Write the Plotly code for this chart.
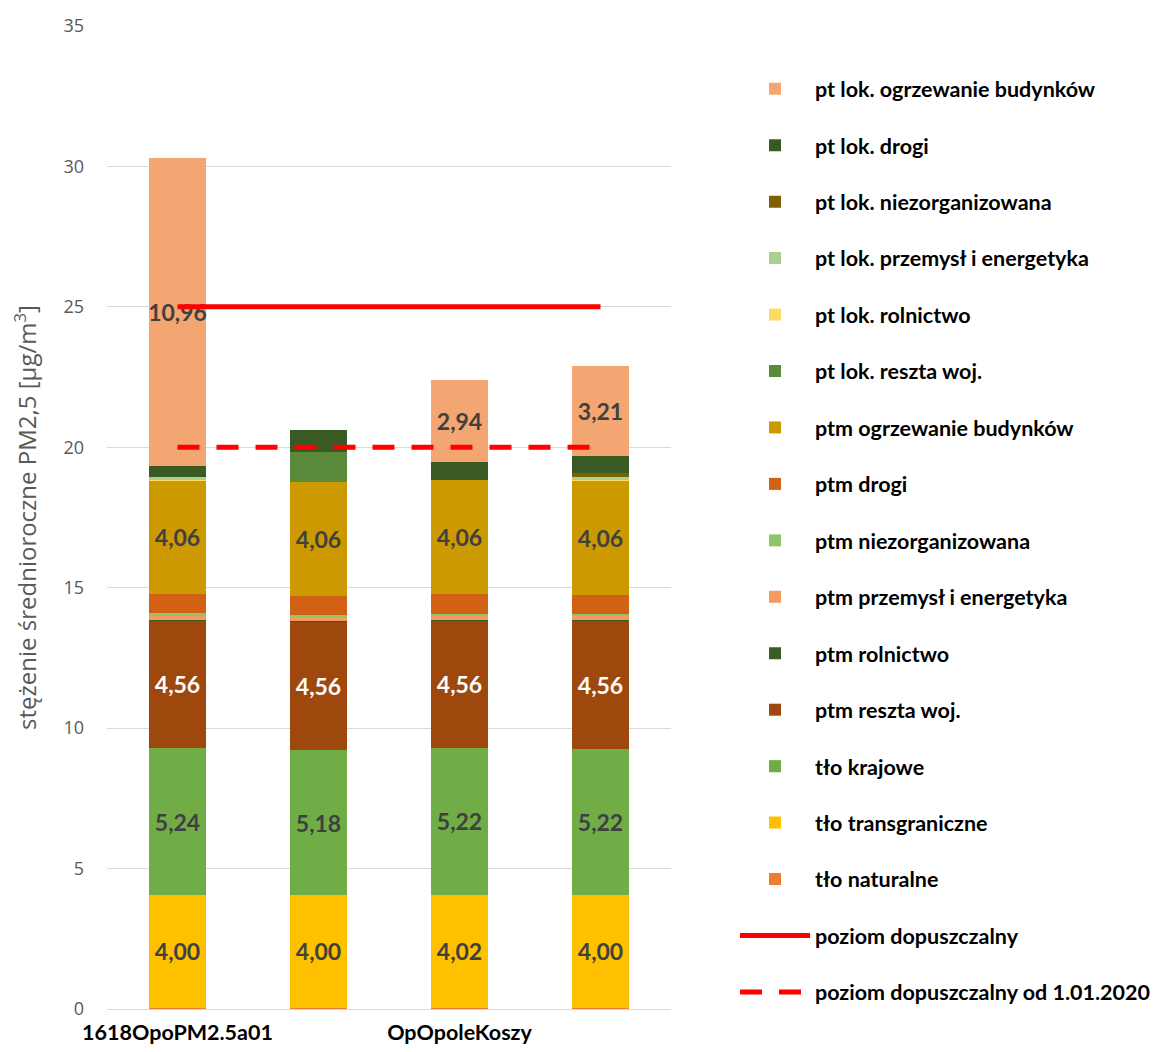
import plotly.graph_objects as go

# stations (only every other label is printed under the axis, as in the source chart)
x_pos = [0, 1, 2, 3]
x_labels = ["1618OpoPM2.5a01", "", "OpOpoleKoszy", ""]

# contributions [µg/m3], bottom of the stack first
tlo_naturalne = [0.05, 0.05, 0.05, 0.05]
tlo_transgraniczne = [4.00, 4.00, 4.02, 4.00]
tlo_krajowe = [5.24, 5.18, 5.22, 5.22]
ptm_reszta_woj = [4.56, 4.56, 4.56, 4.56]
ptm_rolnictwo = [0.01, 0.01, 0.01, 0.01]
ptm_przemysl = [0.15, 0.16, 0.15, 0.15]
ptm_niezorganizowana = [0.08, 0.08, 0.07, 0.08]
ptm_drogi = [0.68, 0.67, 0.69, 0.68]
ptm_ogrzewanie = [4.06, 4.06, 4.06, 4.06]
ptlok_reszta_woj = [0.00, 1.07, 0.00, 0.00]
ptlok_rolnictwo = [0.02, 0.00, 0.00, 0.02]
ptlok_przemysl = [0.10, 0.00, 0.00, 0.12]
ptlok_niezorganizowana = [0.00, 0.00, 0.00, 0.15]
ptlok_drogi = [0.38, 0.77, 0.64, 0.60]
ptlok_ogrzewanie = [10.96, 0.00, 2.94, 3.21]

poziom_dopuszczalny = [25, 25, 25, 25]
poziom_2020 = [20, 20, 20, 20]

series = [
    ("tło naturalne", tlo_naturalne, "#ED7D31"),
    ("tło transgraniczne", tlo_transgraniczne, "#FFC000"),
    ("tło krajowe", tlo_krajowe, "#70AD47"),
    ("ptm reszta woj.", ptm_reszta_woj, "#9E480E"),
    ("ptm rolnictwo", ptm_rolnictwo, "#3B5C25"),
    ("ptm przemysł i energetyka", ptm_przemysl, "#F29C62"),
    ("ptm niezorganizowana", ptm_niezorganizowana, "#8FC46A"),
    ("ptm drogi", ptm_drogi, "#D26115"),
    ("ptm ogrzewanie budynków", ptm_ogrzewanie, "#CC9900"),
    ("pt lok. reszta woj.", ptlok_reszta_woj, "#5B8A3A"),
    ("pt lok. rolnictwo", ptlok_rolnictwo, "#FFD966"),
    ("pt lok. przemysł i energetyka", ptlok_przemysl, "#A9D08E"),
    ("pt lok. niezorganizowana", ptlok_niezorganizowana, "#7F6000"),
    ("pt lok. drogi", ptlok_drogi, "#3A5A24"),
    ("pt lok. ogrzewanie budynków", ptlok_ogrzewanie, "#F4A672"),
]

label_font = "Lato, Carlito, Calibri, sans-serif"
n = len(series)

fig = go.Figure()

for i, (name, vals, color) in enumerate(series):
    text = [f"{v:.2f}".replace(".", ",") if v >= 2 else "" for v in vals]
    txt_color = "white" if name == "ptm reszta woj." else "#404040"
    fig.add_trace(go.Bar(
        x=x_pos, y=vals, name=name, legendgroup=name, legendrank=n - i,
        marker=dict(color=color, line=dict(width=0)),
        width=0.4,
        text=text, textposition="inside", insidetextanchor="middle", textangle=0,
        textfont=dict(family=label_font, size=23, color=txt_color, weight="bold"),
        hoverinfo="x+y+name",
    ))

fig.add_trace(go.Scatter(
    x=x_pos, y=poziom_dopuszczalny, mode="lines", name="poziom dopuszczalny",
    line=dict(color="#FF0000", width=5), legendgroup="l1", legendrank=100,
))
fig.add_trace(go.Scatter(
    x=x_pos, y=poziom_2020, mode="lines", name="poziom dopuszczalny od 1.01.2020",
    line=dict(color="#FF0000", width=5, dash="22px,17px"), legendgroup="l2", legendrank=101,
))

# page body has an 8px margin, so the figure is a bit smaller than the window
fig.update_layout(
    width=1155, height=1044,
    barmode="stack",
    plot_bgcolor="white", paper_bgcolor="white",
    margin=dict(l=99, r=492, t=18, b=43),
    uniformtext=dict(minsize=23, mode="show"),
    font=dict(family="Open Sans, sans-serif", color="#595959"),
    legend=dict(
        x=727 / 1155, xref="container", xanchor="left",
        y=0.957, yref="paper", yanchor="top",
        traceorder="grouped", tracegroupgap=25.5,
        font=dict(family=label_font, size=21.5, color="black", weight="bold"),
        itemwidth=70,
    ),
)

fig.update_xaxes(
    range=[-0.5, 3.5], tickvals=x_pos, ticktext=x_labels,
    showgrid=False, showline=False, zeroline=False, automargin=False,
    tickfont=dict(family=label_font, size=21.5, color="black", weight="bold"),
    ticklabelstandoff=8,
)
fig.update_yaxes(
    range=[0, 35], dtick=5, showgrid=True, gridcolor="#D9D9D9", gridwidth=1,
    zeroline=True, zerolinecolor="#D9D9D9", zerolinewidth=1, automargin=False,
    tickfont=dict(size=18, color="#595959"),
    ticklabelstandoff=22,
    title=dict(
        text="stężenie średnioroczne PM2,5 [μg/m<sup>3</sup>]",
        font=dict(family="Open Sans, sans-serif", size=24, color="#595959"),
        standoff=23,
    ),
)

fig.write_html("out.html")
